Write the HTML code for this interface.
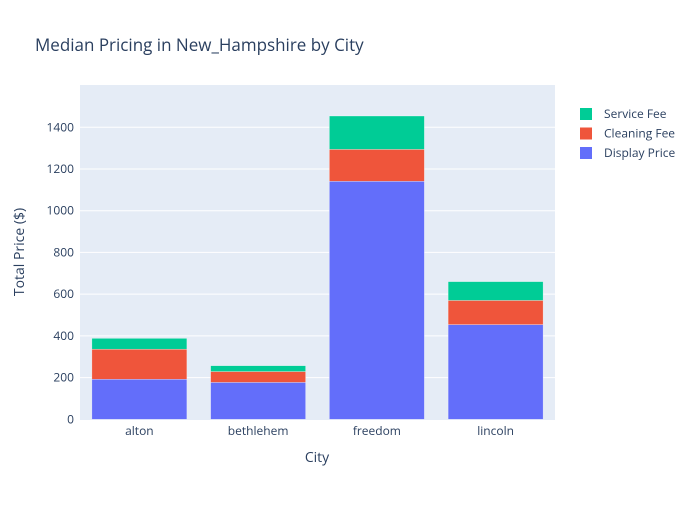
<!DOCTYPE html>
<html><head><meta charset="utf-8">
<style>
body{margin:0;background:#fff;font-family:"Open Sans","Liberation Sans",sans-serif;}
svg text{font-family:"Open Sans","Liberation Sans",sans-serif;}
</style></head>
<body>
<svg width="700" height="500" xmlns="http://www.w3.org/2000/svg">
<rect width="700" height="500" fill="#fff"/>
<text x="35" y="51" font-size="17" fill="#2a3f5f">Median Pricing in New_Hampshire by City</text>
<rect x="80" y="85" width="475" height="335" fill="#e5ecf6"/>
<g id="grid"></g>
<g id="bars"></g>
<g id="xticks"></g>
<text x="317" y="462" font-size="14" fill="#2a3f5f" text-anchor="middle">City</text>
<text transform="translate(24,252) rotate(-90)" font-size="14" fill="#2a3f5f" text-anchor="middle">Total Price ($)</text>
<g id="legend"></g>
</svg>
<script>
const categories=["alton","bethlehem","freedom","lincoln"];
const displayPrice=[192,177,1141,454];
const cleaningFee=[144,52,153,116];
const serviceFee=[52,28,160,90];
const yTicks=[0,200,400,600,800,1000,1200,1400];
const seriesNames=["Display Price","Cleaning Fee","Service Fee"];
const colors=["#636efa","#ef553b","#00cc96"];
const NS="http://www.w3.org/2000/svg";
const x0=80,pw=475,y0=419.3,scale=0.2086;
const y=v=>y0-v*scale;
const bw=pw/categories.length;
function mk(t,a,p){const e=document.createElementNS(NS,t);for(const k in a)e.setAttribute(k,a[k]);p.appendChild(e);return e;}
const grid=document.getElementById('grid');
yTicks.forEach(v=>{
  if(v>0){const l=mk('line',{x1:x0,x2:x0+pw,y1:y(v),y2:y(v),stroke:'#fff','stroke-width':1},grid);
  
  }
  const t=mk('text',{x:x0-6,y:y(v)+4,'font-size':12,fill:'#2a3f5f','text-anchor':'end'},grid);
  t.textContent=v;
  
  
});
const bars=document.getElementById('bars');
const series=[displayPrice,cleaningFee,serviceFee];
categories.forEach((c,i)=>{
  let base=0;
  const cx=x0+bw*(i+0.5);
  series.forEach((s,j)=>{
    const r=mk('rect',{x:cx-bw*0.4,y:y(base+s[i]),width:bw*0.8,height:s[i]*scale,fill:colors[j],stroke:'#fff','stroke-width':0.5,'stroke-opacity':0.6},bars);
    
    
    base+=s[i];
  });
  const t=mk('text',{x:cx,y:435,'font-size':12,fill:'#2a3f5f','text-anchor':'middle'},document.getElementById('xticks'));
  t.textContent=c;
  
  
});
const lg=document.getElementById('legend');
[2,1,0].forEach((j,k)=>{
  const g=mk('g',{},lg);
  
  
  const yy=114+k*19.5;
  mk('rect',{x:580,y:yy-6,width:12,height:12,fill:colors[j]},g);
  const t=mk('text',{x:604,y:yy+4,'font-size':12,fill:'#2a3f5f'},g);
  t.textContent=seriesNames[j];
});
</script>
</body></html>
